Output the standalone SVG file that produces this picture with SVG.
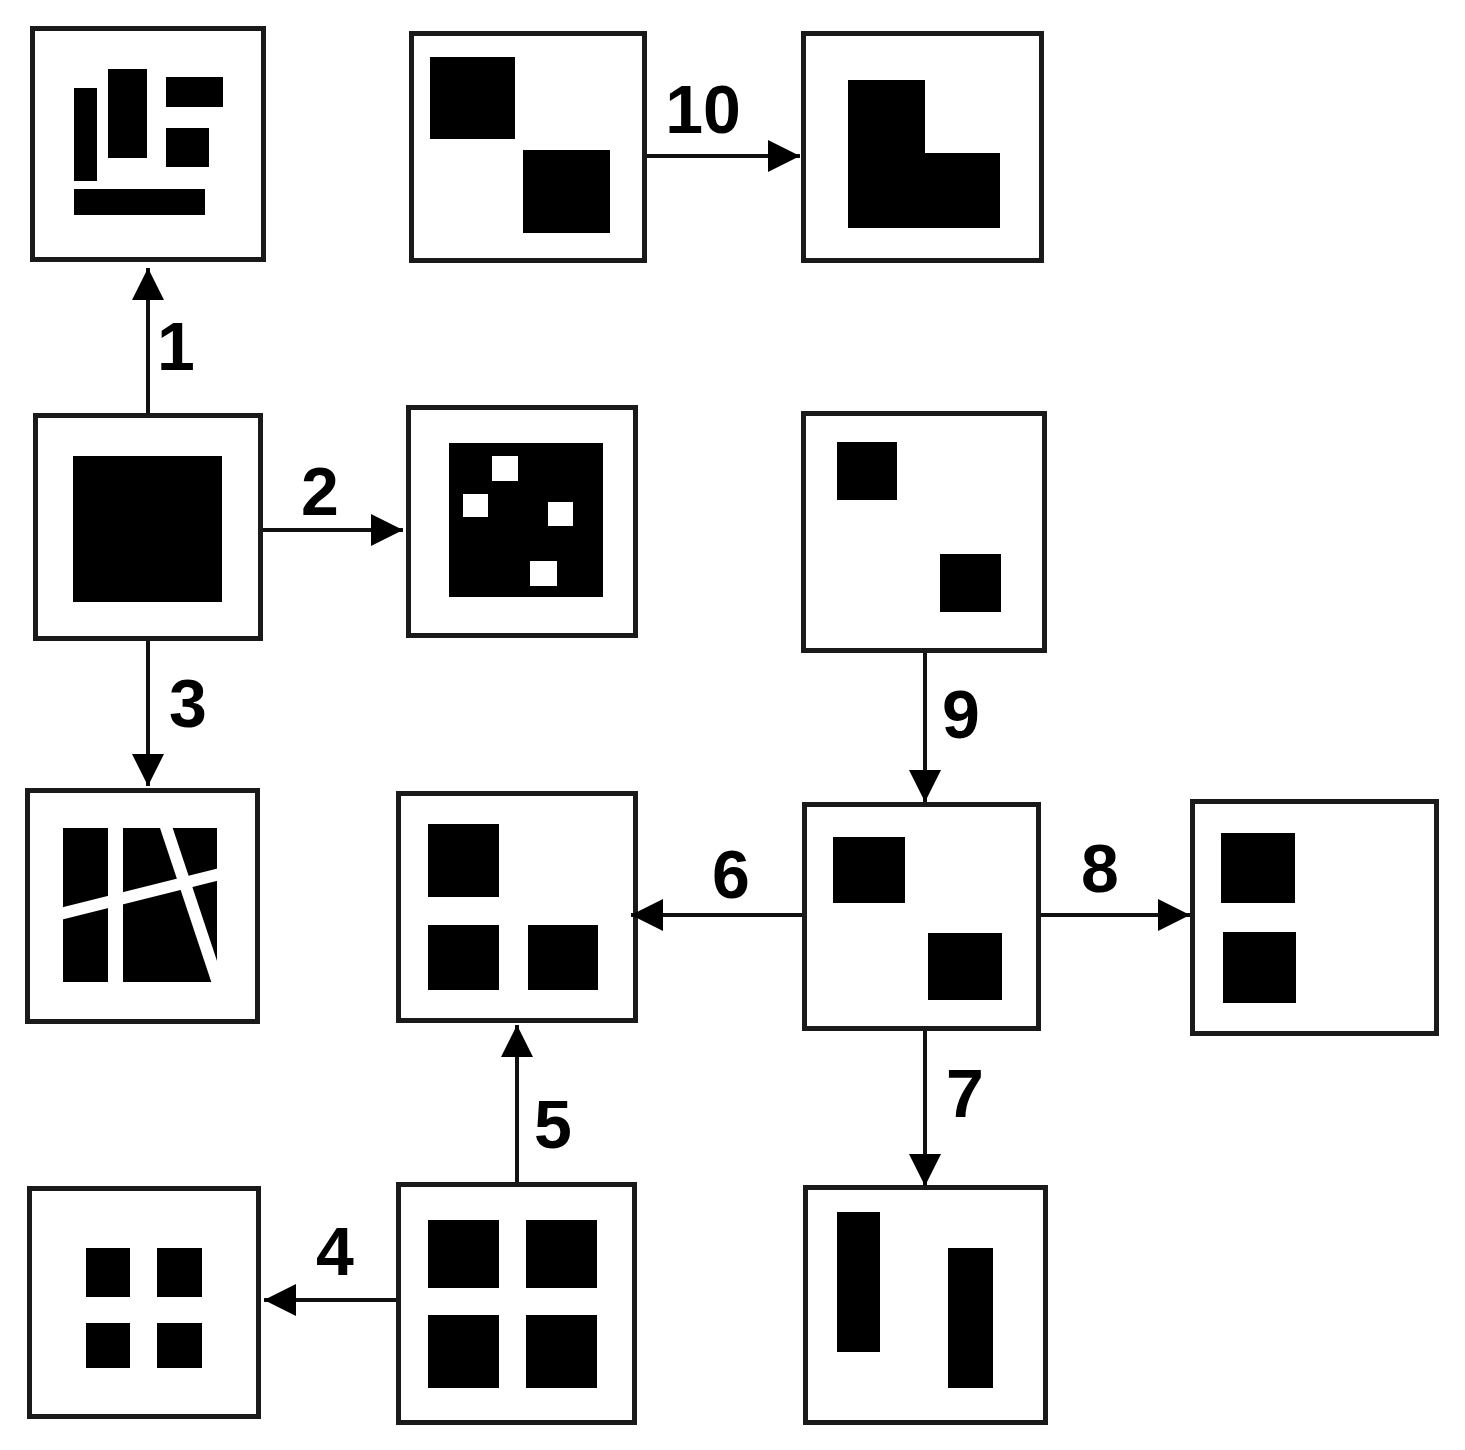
<svg xmlns="http://www.w3.org/2000/svg" width="1465" height="1450" viewBox="0 0 1465 1450">
<style>
.box{fill:#fff;stroke:#1a1a1a;stroke-width:5}
.blk{fill:#000}
.wht{fill:#fff}
.cut{stroke:#fff;stroke-width:12;fill:none}
.conn{stroke:#111;stroke-width:4;fill:none}
.lbl{font-family:"Liberation Sans",Arial,sans-serif;font-weight:bold;font-size:68px;fill:#000;text-anchor:middle}
</style>
<defs>
<marker id="ah" markerUnits="userSpaceOnUse" markerWidth="34" markerHeight="34" refX="32" refY="16" orient="auto">
<path d="M0,0 L32,16 L0,32 z" fill="#000"/>
</marker>
</defs>
<rect width="1465" height="1450" fill="#fff"/>

<g id="nodeA">
<rect class="box" x="32.5" y="28.5" width="231" height="231"/>
<rect class="blk" x="74" y="88" width="23" height="93"/>
<rect class="blk" x="108" y="69" width="39" height="89"/>
<rect class="blk" x="166" y="77" width="57" height="30"/>
<rect class="blk" x="166" y="128" width="43" height="39"/>
<rect class="blk" x="74" y="189" width="131" height="26"/>
</g>

<g id="nodeB">
<rect class="box" x="411.5" y="33.5" width="233" height="227"/>
<rect class="blk" x="430" y="57" width="85" height="82"/>
<rect class="blk" x="523" y="150" width="87" height="83"/>
</g>

<g id="nodeC">
<rect class="box" x="803.5" y="33.5" width="238" height="227"/>
<polygon class="blk" points="848,80 925,80 925,153 1000,153 1000,228 848,228"/>
</g>

<g id="nodeD">
<rect class="box" x="35.5" y="415.5" width="225" height="223"/>
<rect class="blk" x="73" y="456" width="149" height="146"/>
</g>

<g id="nodeE">
<rect class="box" x="408.5" y="407.5" width="227" height="228"/>
<rect class="blk" x="449" y="443" width="154" height="154"/>
<rect class="wht" x="492" y="456" width="26" height="25"/>
<rect class="wht" x="463" y="494" width="25" height="23"/>
<rect class="wht" x="548" y="502" width="25" height="24"/>
<rect class="wht" x="530" y="561" width="27" height="25"/>
</g>

<g id="nodeF">
<rect class="box" x="803.5" y="413.5" width="241" height="237"/>
<rect class="blk" x="837" y="442" width="60" height="58"/>
<rect class="blk" x="940" y="554" width="61" height="58"/>
</g>

<g id="nodeG">
<rect class="box" x="27.5" y="790.5" width="230" height="231"/>
<rect class="blk" x="63" y="828" width="154" height="154"/>
<rect class="wht" x="108" y="826" width="15" height="158"/>
<line class="cut" x1="60" y1="914" x2="220" y2="874"/>
<line class="cut" x1="165" y1="824" x2="219" y2="986"/>
</g>

<g id="nodeH">
<rect class="box" x="398.5" y="793.5" width="237" height="227"/>
<rect class="blk" x="428" y="824" width="71" height="73"/>
<rect class="blk" x="428" y="925" width="71" height="65"/>
<rect class="blk" x="528" y="925" width="70" height="65"/>
</g>

<g id="nodeI">
<rect class="box" x="804.5" y="804.5" width="234" height="224"/>
<rect class="blk" x="833" y="837" width="72" height="66"/>
<rect class="blk" x="928" y="933" width="74" height="67"/>
</g>

<g id="nodeJ">
<rect class="box" x="1192.5" y="801.5" width="244" height="232"/>
<rect class="blk" x="1221" y="833" width="74" height="70"/>
<rect class="blk" x="1223" y="932" width="73" height="71"/>
</g>

<g id="nodeK">
<rect class="box" x="29.5" y="1188.5" width="229" height="228"/>
<rect class="blk" x="86" y="1248" width="44" height="49"/>
<rect class="blk" x="157" y="1248" width="45" height="49"/>
<rect class="blk" x="86" y="1323" width="44" height="45"/>
<rect class="blk" x="157" y="1323" width="45" height="45"/>
</g>

<g id="nodeL">
<rect class="box" x="398.5" y="1184.5" width="236" height="238"/>
<rect class="blk" x="428" y="1220" width="71" height="68"/>
<rect class="blk" x="526" y="1220" width="71" height="68"/>
<rect class="blk" x="428" y="1315" width="71" height="73"/>
<rect class="blk" x="526" y="1315" width="71" height="73"/>
</g>

<g id="nodeM">
<rect class="box" x="805.5" y="1187.5" width="240" height="235"/>
<rect class="blk" x="837" y="1212" width="43" height="140"/>
<rect class="blk" x="948" y="1248" width="45" height="140"/>
</g>

<g id="connectors">
<line class="conn" x1="148" y1="413" x2="148" y2="268" marker-end="url(#ah)"/>
<line class="conn" x1="263" y1="530" x2="403" y2="530" marker-end="url(#ah)"/>
<line class="conn" x1="148" y1="641" x2="148" y2="786" marker-end="url(#ah)"/>
<line class="conn" x1="396" y1="1300" x2="264" y2="1300" marker-end="url(#ah)"/>
<line class="conn" x1="517" y1="1182" x2="517" y2="1025" marker-end="url(#ah)"/>
<line class="conn" x1="802" y1="915" x2="631" y2="915" marker-end="url(#ah)"/>
<line class="conn" x1="925" y1="1031" x2="925" y2="1186" marker-end="url(#ah)"/>
<line class="conn" x1="1041" y1="915" x2="1190" y2="915" marker-end="url(#ah)"/>
<line class="conn" x1="925" y1="653" x2="925" y2="802" marker-end="url(#ah)"/>
<line class="conn" x1="647" y1="156" x2="800" y2="156" marker-end="url(#ah)"/>
</g>

<g id="labels">
<text class="lbl" x="176" y="370">1</text>
<text class="lbl" x="320" y="515">2</text>
<text class="lbl" x="188" y="727">3</text>
<text class="lbl" x="335" y="1275">4</text>
<text class="lbl" x="553" y="1148">5</text>
<text class="lbl" x="731" y="898">6</text>
<text class="lbl" x="965" y="1117">7</text>
<text class="lbl" x="1100" y="892">8</text>
<text class="lbl" x="961" y="738">9</text>
<text class="lbl" x="703" y="133">10</text>
</g>
</svg>
